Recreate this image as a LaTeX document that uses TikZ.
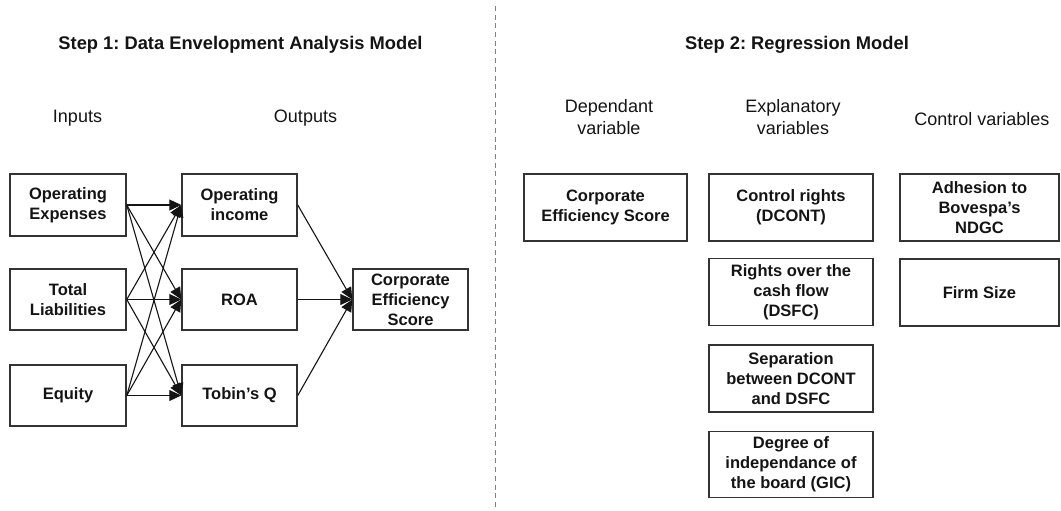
\documentclass[tikz,border=0pt]{standalone}
\usepackage{fontspec}
\setmainfont{Liberation Sans}
\usetikzlibrary{arrows.meta}
\frenchspacing
\definecolor{ink}{HTML}{141414}
\definecolor{edge}{HTML}{333333}
\definecolor{sep}{HTML}{808080}
\tikzset{
  box/.style={draw=edge, line width=1.5pt, inner sep=0pt, align=center, text=ink,
    font=\bfseries\fontsize{16.5}{20}\selectfont},
  lbl/.style={inner sep=0pt, align=center, text=ink, font=\fontsize{18}{22}\selectfont},
  ttl/.style={inner sep=0pt, anchor=base, text=ink, font=\bfseries\fontsize{18.3}{22}\selectfont},
  conn/.style={draw=ink, line width=1.1pt, -{Triangle[length=12pt,width=11pt]}},
}
\begin{document}
\begin{tikzpicture}[x=1pt,y=-1pt]
\useasboundingbox (0,0) rectangle (1061,511);
% divider
\coordinate (dtop) at (495.5,6);
\coordinate (dbot) at (495.5,511);
\draw[sep, line width=1.8pt, dash pattern=on 5pt off 3.7pt] (dtop) -- (dbot);
% titles
\node[ttl] (t1) at (240.5,50) {Step 1: Data Envelopment Analysis Model};
\node[ttl] (t2) at (797,50) {Step 2: Regression Model};
% column labels
\node[lbl] (inl) at (77.5,118) {Inputs};
\node[lbl] (outl) at (305.5,118) {Outputs};
\node[lbl] (depl) at (609,117) {Dependant\\variable};
\node[lbl] (expl) at (793,117) {Explanatory\\variables};
\node[lbl] (ctll) at (982,119) {Control variables};
% step 1 boxes
\node[box, minimum width=116pt, minimum height=62pt] (oe) at (68,205) {Operating\\Expenses};
\node[box, minimum width=116pt, minimum height=61pt] (tl) at (68,299.5) {Total\\Liabilities};
\node[box, minimum width=116pt, minimum height=61pt] (eq) at (68,395.5) {Equity};
\node[box, minimum width=115pt, minimum height=62pt] (oi) at (239.5,205) {Operating\\income};
\node[box, minimum width=115pt, minimum height=61pt] (roa) at (239.5,299.5) {ROA};
\node[box, minimum width=115pt, minimum height=61pt] (tq) at (239.5,395.5) {Tobin's Q};
\node[box, minimum width=115pt, minimum height=61pt] (ces1) at (410.5,299.5) {Corporate\\Efficiency\\Score};
% connectors inputs -> outputs
\foreach \a in {oe,tl,eq}{
  \foreach \b in {oi,roa,tq}{
    \draw[conn] (\a.east) -- (\b.west);
  }
}
% outputs -> score
\foreach \b in {oi,roa,tq}{
  \draw[conn] (\b.east) -- (ces1.west);
}
% step 2 boxes
\node[box, minimum width=163pt, minimum height=67pt] (ces2) at (605.5,207.5) {Corporate\\Efficiency Score};
\node[box, minimum width=164pt, minimum height=67pt] (cr) at (791,207.5) {Control rights\\(DCONT)};
\node[box, minimum width=164pt, minimum height=67pt] (rc) at (791,292) {Rights over the\\cash flow\\(DSFC)};
\node[box, minimum width=164pt, minimum height=67pt] (sp) at (791,378.5) {Separation\\between DCONT\\and DSFC};
\node[box, minimum width=164pt, minimum height=66pt] (dg) at (791,464.5) {Degree of\\independance of\\the board (GIC)};
\node[box, minimum width=159pt, minimum height=67pt] (ad) at (979.5,207.5) {Adhesion to\\Bovespa's\\NDGC};
\node[box, minimum width=159pt, minimum height=67pt] (fs) at (979.5,292.5) {Firm Size};
\end{tikzpicture}
\end{document}
